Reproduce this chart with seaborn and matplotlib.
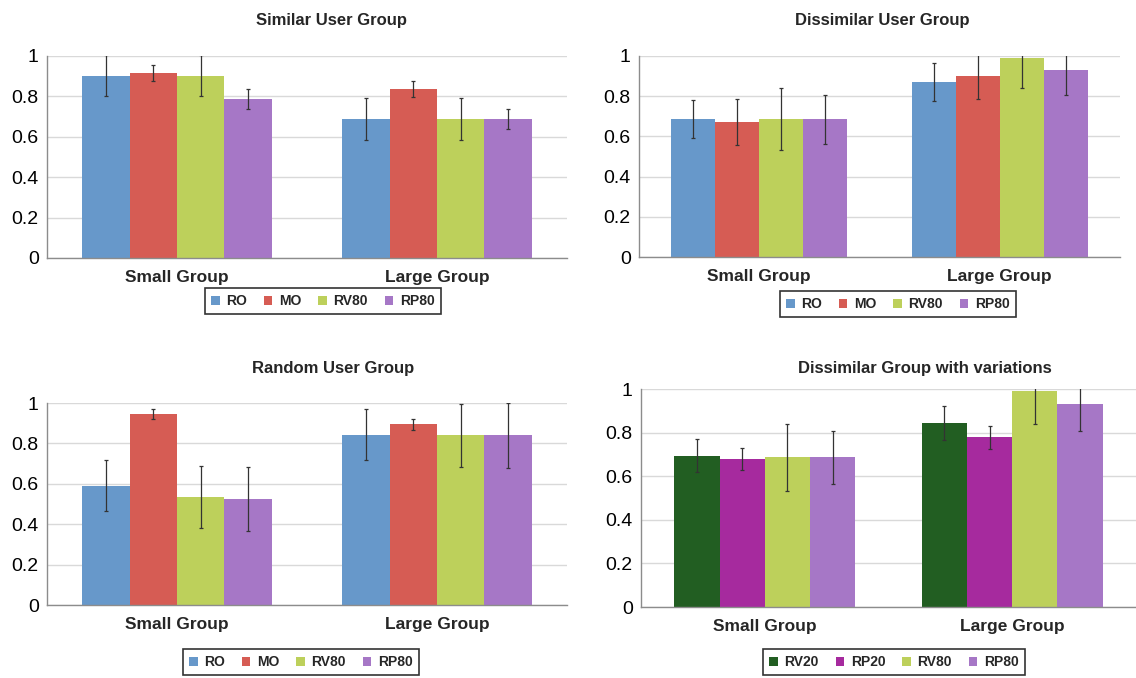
import matplotlib
matplotlib.use("Agg")
import matplotlib.pyplot as plt
import seaborn as sns
import pandas as pd
from matplotlib.patches import Patch

categories = ["Small Group", "Large Group"]
series_main = ["RO", "MO", "RV80", "RP80"]
series_var = ["RV20", "RP20", "RV80", "RP80"]

similar_small = [0.903, 0.914, 0.903, 0.786]
similar_large = [0.689, 0.835, 0.689, 0.689]
similar_err_small = [0.10, 0.04, 0.10, 0.05]
similar_err_large = [0.105, 0.04, 0.105, 0.05]

dissimilar_small = [0.685, 0.672, 0.685, 0.685]
dissimilar_large = [0.872, 0.901, 0.992, 0.928]
dissimilar_err_small = [0.095, 0.113, 0.155, 0.123]
dissimilar_err_large = [0.094, 0.117, 0.15, 0.122]

random_small = [0.590, 0.945, 0.534, 0.524]
random_large = [0.843, 0.894, 0.840, 0.840]
random_err_small = [0.127, 0.025, 0.155, 0.16]
random_err_large = [0.126, 0.027, 0.155, 0.16]

variation_small = [0.694, 0.678, 0.686, 0.686]
variation_large = [0.845, 0.778, 0.991, 0.930]
variation_err_small = [0.077, 0.05, 0.155, 0.122]
variation_err_large = [0.078, 0.051, 0.15, 0.122]

colors = {"RO": "#6798CA", "MO": "#D65C54", "RV80": "#BDD05B", "RP80": "#A677C6",
          "RV20": "#225E22", "RP20": "#A62A9E"}

sns.set_theme(style="white")
plt.rcParams["font.family"] = ["Liberation Sans", "DejaVu Sans"]

W, H = 1136, 678
fig = plt.figure(figsize=(W / 100, H / 100), dpi=100)


def px_axes(left, right, top, bottom):
    return fig.add_axes([left / W, 1 - bottom / H, (right - left) / W, (bottom - top) / H])


def panel(ax, series, small, large, err_small, err_large, title, title_xy, legend_xy):
    rows = []
    for cat, vals, errs in ((categories[0], small, err_small), (categories[1], large, err_large)):
        for s, v, e in zip(series, vals, errs):
            rows.append({"category": cat, "series": s, "value": v, "err": e})
    df = pd.DataFrame(rows)
    sns.barplot(data=df, x="category", y="value", hue="series", hue_order=series,
                order=categories, palette=[colors[s] for s in series], width=0.73,
                gap=0, errorbar=None, saturation=1, legend=False, ax=ax, zorder=2,
                linewidth=0, edgecolor="none")
    bar_containers = list(ax.containers)
    for si, cont in enumerate(bar_containers):
        for ci, bar in enumerate(cont):
            e = df[(df.series == series[si]) & (df.category == categories[ci])]["err"].iloc[0]
            ax.errorbar(bar.get_x() + bar.get_width() / 2, bar.get_height(), yerr=e,
                        fmt="none", ecolor="#333333", elinewidth=0.9, capsize=1.5,
                        capthick=0.9, zorder=3)
    ax.set_ylim(0, 1)
    ax.set_xlim(-0.5, 1.5)
    ax.set_yticks([0, 0.2, 0.4, 0.6, 0.8, 1.0])
    ax.set_yticklabels(["0", "0.2", "0.4", "0.6", "0.8", "1"])
    ax.yaxis.grid(True, color="#D9D9D9", linewidth=1)
    ax.set_axisbelow(True)
    for sp in ["top", "right"]:
        ax.spines[sp].set_visible(False)
    for sp in ["left", "bottom"]:
        ax.spines[sp].set_color("#8C8C8C")
        ax.spines[sp].set_linewidth(1)
    ax.tick_params(axis="y", length=0, labelsize=14, pad=6, labelcolor="black")
    ax.tick_params(axis="x", length=0, labelsize=12.5, pad=9)
    for lab in ax.get_xticklabels():
        lab.set_fontweight("bold")
    ax.set_xticks([0.5], minor=True)
    ax.tick_params(axis="x", which="minor", length=4, color="#8C8C8C", width=1)
    ax.set_xlabel("")
    ax.set_ylabel("")
    fig.text(title_xy[0] / W, 1 - title_xy[1] / H, title, ha="center", va="center",
             fontsize=12, fontweight="bold")
    handles = [Patch(facecolor=colors[s], edgecolor="none", label=s) for s in series]
    leg = fig.legend(handles=handles, loc="center", ncol=4,
                     bbox_to_anchor=(legend_xy[0] / W, 1 - legend_xy[1] / H),
                     frameon=True, fancybox=False, edgecolor="black",
                     prop={"weight": "bold", "size": 10}, handlelength=0.6,
                     handleheight=0.6, handletextpad=0.5, columnspacing=1.2,
                     borderpad=0.45)
    leg.get_frame().set_linewidth(1.2)


ax1 = px_axes(47, 567, 56, 258)
panel(ax1, series_main, similar_small, similar_large, similar_err_small, similar_err_large,
      "Similar User Group", (332, 20), (323, 301))

ax2 = px_axes(639, 1120, 56, 257)
panel(ax2, series_main, dissimilar_small, dissimilar_large, dissimilar_err_small,
      dissimilar_err_large, "Dissimilar User Group", (882, 20), (898, 304))

ax3 = px_axes(47, 567, 403, 605)
panel(ax3, series_main, random_small, random_large, random_err_small, random_err_large,
      "Random User Group", (333, 368), (301, 662))

ax4 = px_axes(641, 1136, 389, 607)
panel(ax4, series_var, variation_small, variation_large, variation_err_small,
      variation_err_large, "Dissimilar Group with variations", (925, 368), (894, 662))

fig.savefig("out.png", dpi=100)
